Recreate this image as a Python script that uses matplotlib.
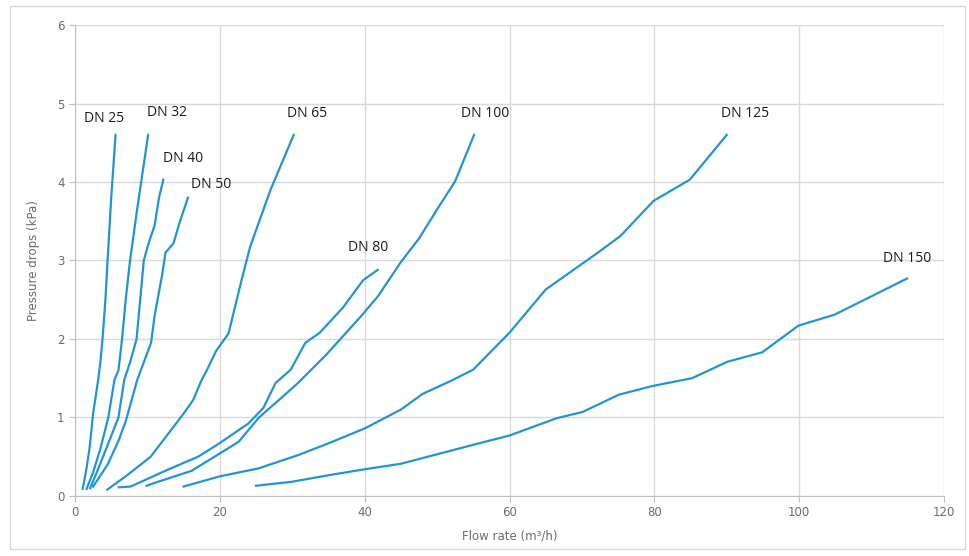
import matplotlib.pyplot as plt
from matplotlib.patches import Rectangle

# pressure drop curves (flow m3/h, pressure kPa)
dn25_q = [1.05, 1.5, 2.0, 2.5, 3.2, 3.5, 3.8, 4.2, 4.5, 5.0, 5.6]
dn25_p = [0.09, 0.3, 0.6, 1.05, 1.48, 1.7, 2.0, 2.5, 3.0, 3.8, 4.6]

dn32_q = [1.6, 2.5, 3.5, 4.6, 5.45, 6.0, 6.5, 7.0, 7.6, 8.5, 9.3, 10.1]
dn32_p = [0.09, 0.3, 0.6, 1.0, 1.48, 1.6, 2.0, 2.5, 3.0, 3.6, 4.1, 4.6]

dn40_q = [2.1, 3.0, 4.3, 6.0, 6.8, 7.6, 8.5, 9.0, 9.5, 10.1, 11.0, 11.6, 12.2]
dn40_p = [0.1, 0.3, 0.6, 1.0, 1.48, 1.7, 2.0, 2.5, 3.0, 3.2, 3.45, 3.8, 4.03]

dn50_q = [2.5, 4.5, 6.0, 7.0, 8.6, 10.5, 11.0, 12.0, 12.5, 13.6, 14.5, 15.6]
dn50_p = [0.12, 0.4, 0.7, 0.95, 1.48, 1.95, 2.3, 2.8, 3.1, 3.22, 3.5, 3.8]

dn65_q = [4.45, 7.0, 10.45, 13.6, 15.0, 16.3, 17.5, 18.2, 19.5, 21.2, 23.0, 24.2, 27.0, 30.2]
dn65_p = [0.08, 0.25, 0.5, 0.88, 1.05, 1.22, 1.48, 1.6, 1.85, 2.07, 2.75, 3.18, 3.9, 4.6]

dn80_q = [6.05, 7.7, 12.7, 17.0, 19.6, 23.9, 26.0, 27.7, 29.8, 31.8, 33.8, 37.0, 39.8, 41.8]
dn80_p = [0.11, 0.12, 0.33, 0.5, 0.65, 0.92, 1.12, 1.44, 1.61, 1.95, 2.08, 2.4, 2.75, 2.88]

dn100_q = [9.9, 11.1, 16.1, 22.6, 25.4, 28.5, 30.8, 34.7, 39.5, 41.8, 45.0, 47.5, 50.0, 52.5, 55.1]
dn100_p = [0.13, 0.17, 0.32, 0.69, 1.0, 1.25, 1.44, 1.8, 2.29, 2.54, 2.98, 3.28, 3.65, 4.01, 4.6]

dn125_q = [15.0, 20.0, 25.3, 30.8, 35.0, 40.0, 45.0, 48.0, 52.0, 55.0, 60.0, 65.0, 71.9, 75.3, 79.9, 84.9, 90.0]
dn125_p = [0.12, 0.25, 0.35, 0.52, 0.67, 0.86, 1.1, 1.3, 1.47, 1.61, 2.08, 2.63, 3.08, 3.31, 3.76, 4.03, 4.6]

dn150_q = [25.0, 29.9, 35.4, 40.0, 45.0, 54.5, 60.0, 66.5, 70.1, 75.1, 79.7, 85.2, 90.1, 94.9, 99.9, 104.9, 114.9]
dn150_p = [0.13, 0.18, 0.27, 0.34, 0.41, 0.64, 0.77, 0.99, 1.07, 1.29, 1.40, 1.50, 1.71, 1.83, 2.17, 2.31, 2.77]

curves = [
    ("DN 25", dn25_q, dn25_p, (4.0, 4.81)),
    ("DN 32", dn32_q, dn32_p, (12.7, 4.88)),
    ("DN 40", dn40_q, dn40_p, (14.9, 4.3)),
    ("DN 50", dn50_q, dn50_p, (18.8, 3.97)),
    ("DN 65", dn65_q, dn65_p, (32.0, 4.87)),
    ("DN 80", dn80_q, dn80_p, (40.5, 3.16)),
    ("DN 100", dn100_q, dn100_p, (56.6, 4.87)),
    ("DN 125", dn125_q, dn125_p, (92.5, 4.87)),
    ("DN 150", dn150_q, dn150_p, (114.9, 3.03)),
]

LINE = "#2394d2"
GRID = "#d9d9d9"
TXT = "#6b6b6b"

fig = plt.figure(figsize=(9.69, 5.56), dpi=100)
fig.patches.append(Rectangle((0.010, 0.012), 0.986, 0.978, transform=fig.transFigure,
                             fill=False, edgecolor="#d9d9d9", linewidth=1))
ax = fig.add_axes([0.0774, 0.108, 0.8968, 0.847])

for name, q, p, pos in curves:
    ax.plot(q, p, color=LINE, linewidth=1.6, solid_joinstyle="round")
    ax.text(pos[0], pos[1], name, ha="center", va="center", fontsize=10,
            color="#1a1a1a", family="Open Sans")

ax.set_xlim(0, 120)
ax.set_ylim(0, 6)
ax.set_xticks(range(0, 121, 20))
ax.set_yticks(range(0, 7))
ax.grid(True, color=GRID, linewidth=1)
ax.set_axisbelow(True)
for s in ["top", "right"]:
    ax.spines[s].set_visible(False)
for s in ["left", "bottom"]:
    ax.spines[s].set_color("#bfbfbf")
ax.tick_params(colors="#bfbfbf", labelcolor=TXT, labelsize=8.5, length=4)
ax.set_xlabel("Flow rate (m³/h)", color=TXT, fontsize=8.5, labelpad=7)
ax.set_ylabel("Pressure drops (kPa)", color=TXT, fontsize=8.5, labelpad=12)

plt.savefig("out.png", dpi=100)
plt.close()
